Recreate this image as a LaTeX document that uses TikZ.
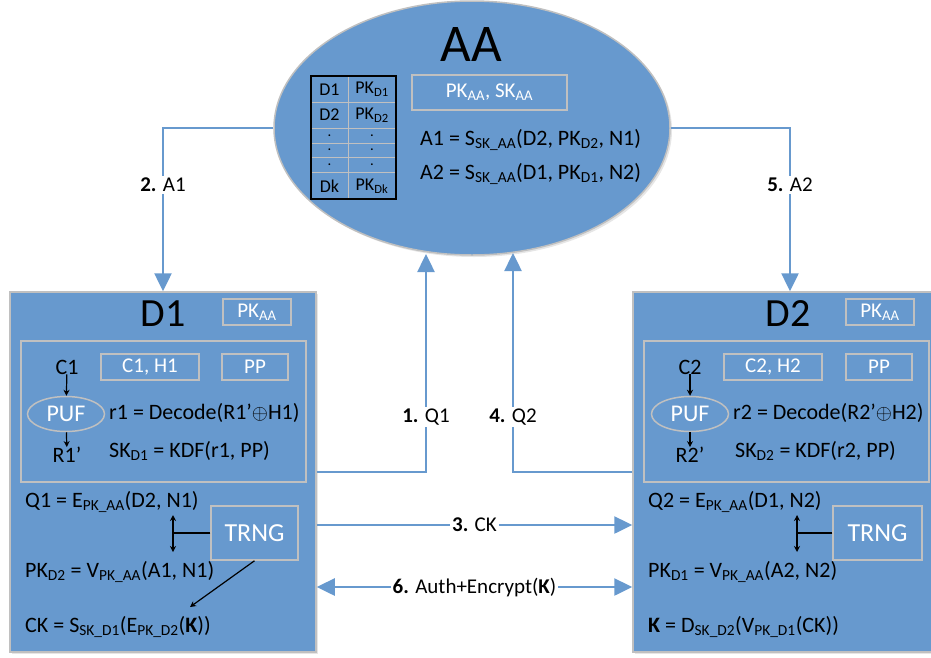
\documentclass[tikz,border=0pt]{standalone}
\usepackage{fontspec}
\setmainfont{Carlito}
\usetikzlibrary{arrows.meta,shapes.geometric,shadows}
\definecolor{boxblue}{RGB}{103,153,206}
\definecolor{edgegray}{RGB}{192,192,192}
\newcommand{\sbs}[1]{\textsubscript{#1}}

\begin{document}
\begin{tikzpicture}[x=1pt,y=-1pt,
  panel/.style={draw=edgegray,line width=1.5pt,fill=boxblue,
    drop shadow={opacity=0.2,shadow xshift=2pt,shadow yshift=-2pt}},
  inbox/.style={draw=edgegray,line width=1.5pt},
  keybox/.style={draw=edgegray,line width=1.5pt,text=white,inner sep=0pt,
    font=\fontsize{21}{24}\selectfont},
  eq/.style={anchor=west,inner sep=0pt,font=\fontsize{22}{24}\selectfont},
  cell/.style={inner sep=0pt,font=\fontsize{18}{20}\selectfont},
  dotcell/.style={inner sep=0pt,text height=1.5pt,text depth=0pt,font=\fontsize{12}{12}\bfseries},
  title/.style={inner sep=0pt,font=\fontsize{40}{44}\selectfont},
  link/.style={boxblue,line width=2.5pt},
  tip/.style={-{Triangle[length=18pt,width=17pt]}},
  lbl/.style={fill=white,text=black,inner sep=2pt,font=\fontsize{21}{24}\selectfont},
  small/.style={-{Stealth[length=6pt,width=6pt]},line width=1.2pt},
  dbl/.style={{Stealth[length=6pt,width=6pt]}-{Stealth[length=6pt,width=6pt]},line width=1.2pt}]
  \useasboundingbox (0,0) rectangle (931,657);
  \clip (0,0) rectangle (931,657);

  % authority
  \node[panel,ellipse,minimum width=396pt,minimum height=254pt,inner sep=0pt]
    (aa) at (472,128) {};
  \node[inner sep=0pt,font=\fontsize{53}{56}\selectfont] (aat) at (471,44) {AA};
  \node[keybox,minimum width=155pt,minimum height=35pt] (pkaa) at (489.5,92.5)
    {PK\sbs{AA}, SK\sbs{AA}};
  \node[eq] (a1) at (420,140) {A1 = S\sbs{SK\_AA}(D2, PK\sbs{D2}, N1)};
  \node[eq] (a2) at (420,174) {A2 = S\sbs{SK\_AA}(D1, PK\sbs{D1}, N2)};

  % key table
  \foreach \y in {102,128,143,157,172}
    \draw[edgegray,line width=1pt] (311,\y) -- (396,\y);
  \draw[edgegray,line width=1pt] (348,76) -- (348,199);
  \draw[line width=1.5pt] (311,76) rectangle (396,199);
  \foreach \l/\r/\y [count=\i] in {D1/PK\sbs{D1}/89.5,D2/PK\sbs{D2}/115,Dk/PK\sbs{Dk}/186} {
    \node[cell] (tl\i) at (329.5,\y) {\l};
    \node[cell] (tr\i) at (372,\y) {\r};
  }
  \foreach \y [count=\i] in {136,150,164.5} {
    \node[dotcell] (dl\i) at (329.5,\y) {.};
    \node[dotcell] (dr\i) at (372,\y) {.};
  }

  % device 1
  \node[panel,minimum width=306pt,minimum height=360pt] (d1) at (163,472) {};
  \node[title] (d1t) at (163,314) {D1};
  \node[keybox,minimum width=68pt,minimum height=26pt] (d1pk) at (257,312) {PK\sbs{AA}};
  \node[inbox,minimum width=285pt,minimum height=141pt] (d1in) at (163.5,411.5) {};
  \node[eq,anchor=center] (c1) at (67,367) {C1};
  \node[keybox,minimum width=98pt,minimum height=26pt] (d1ch) at (150,367) {C1, H1};
  \node[keybox,minimum width=66pt,minimum height=26pt] (d1pp) at (255,367) {PP};
  \node[ellipse,inbox,text=white,minimum width=77pt,minimum height=35pt,inner sep=0pt,
    font=\fontsize{24}{26}\selectfont] (puf1) at (66,414) {PUF};
  \node[eq,anchor=center] (r1p) at (67,455) {R1'};
  \draw[small] (c1) -- (puf1);
  \draw[small] (puf1) -- (r1p);
  \node[eq] (r1) at (109,413) {r1 = Decode(R1'$\oplus$H1)};
  \node[eq] (sk1) at (109,451) {SK\sbs{D1} = KDF(r1, PP)};
  \node[eq] (q1) at (25,502) {Q1 = E\sbs{PK\_AA}(D2, N1)};
  \node[eq] (pk2) at (25,572) {PK\sbs{D2} = V\sbs{PK\_AA}(A1, N1)};
  \node[eq] (ck) at (25,627) {CK = S\sbs{SK\_D1}(E\sbs{PK\_D2}(\textbf{K}))};
  \node[keybox,minimum width=87pt,minimum height=54pt,
    font=\fontsize{26}{28}\selectfont] (trng1) at (254.5,533) {TRNG};
  \coordinate (d1up) at (173,515);
  \coordinate (d1dn) at (173,552);
  \coordinate (d1ck) at (190,607);
  \draw[dbl] (d1up) -- (d1dn);
  \draw[line width=1.2pt] (trng1.west) -- (trng1.west -| d1up);
  \draw[small] (trng1.south) -- (d1ck);

  % device 2
  \node[panel,minimum width=306pt,minimum height=360pt] (d2) at (786,472) {};
  \node[title] (d2t) at (788,314) {D2};
  \node[keybox,minimum width=68pt,minimum height=26pt] (d2pk) at (880,312) {PK\sbs{AA}};
  \node[inbox,minimum width=285pt,minimum height=141pt] (d2in) at (786.5,411.5) {};
  \node[eq,anchor=center] (c2) at (690,367) {C2};
  \node[keybox,minimum width=98pt,minimum height=26pt] (d2ch) at (773,367) {C2, H2};
  \node[keybox,minimum width=66pt,minimum height=26pt] (d2pp) at (879,367) {PP};
  \node[ellipse,inbox,text=white,minimum width=77pt,minimum height=35pt,inner sep=0pt,
    font=\fontsize{24}{26}\selectfont] (puf2) at (690,414) {PUF};
  \node[eq,anchor=center] (r2p) at (690,455) {R2'};
  \draw[small] (c2) -- (puf2);
  \draw[small] (puf2) -- (r2p);
  \node[eq] (r2) at (733,413) {r2 = Decode(R2'$\oplus$H2)};
  \node[eq] (sk2) at (735,451) {SK\sbs{D2} = KDF(r2, PP)};
  \node[eq] (q2) at (648,502) {Q2 = E\sbs{PK\_AA}(D1, N2)};
  \node[eq] (pk1) at (648,572) {PK\sbs{D1} = V\sbs{PK\_AA}(A2, N2)};
  \node[eq] (kk) at (648,627) {\textbf{K} = D\sbs{SK\_D2}(V\sbs{PK\_D1}(CK))};
  \node[keybox,minimum width=89pt,minimum height=54pt,
    font=\fontsize{26}{28}\selectfont] (trng2) at (877.5,533) {TRNG};
  \coordinate (d2up) at (797,515);
  \coordinate (d2dn) at (797,552);
  \draw[dbl] (d2up) -- (d2dn);
  \draw[line width=1.2pt] (trng2.west) -- (trng2.west -| d2up);

  % messages
  \coordinate (q1end) at (426,254);
  \coordinate (q2end) at (513,253);
  \draw[link,tip] (aa.west) -| (d1.north) node[lbl,pos=0.674] {\textbf{2.} A1};
  \draw[link,tip] (aa.east) -| (d2.north -| 790,0) node[lbl,pos=0.674] {\textbf{5.} A2};
  \draw[link,tip] (d1.east) -| (q1end) node[lbl,pos=0.626] {\textbf{1.} Q1};
  \draw[link,tip] (d2.west) -| (q2end) node[lbl,pos=0.626] {\textbf{4.} Q2};
  \draw[link,tip] ([yshift=-53pt]d1.east) -- ([yshift=-53pt]d2.west)
    node[lbl,midway] {\textbf{3.} CK};
  \draw[link,{Triangle[length=18pt,width=17pt]}-{Triangle[length=18pt,width=17pt]}]
    ([yshift=-115pt]d1.east) -- ([yshift=-115pt]d2.west)
    node[lbl,midway] {\textbf{6.} Auth+Encrypt(\textbf{K})};
\end{tikzpicture}
\end{document}
